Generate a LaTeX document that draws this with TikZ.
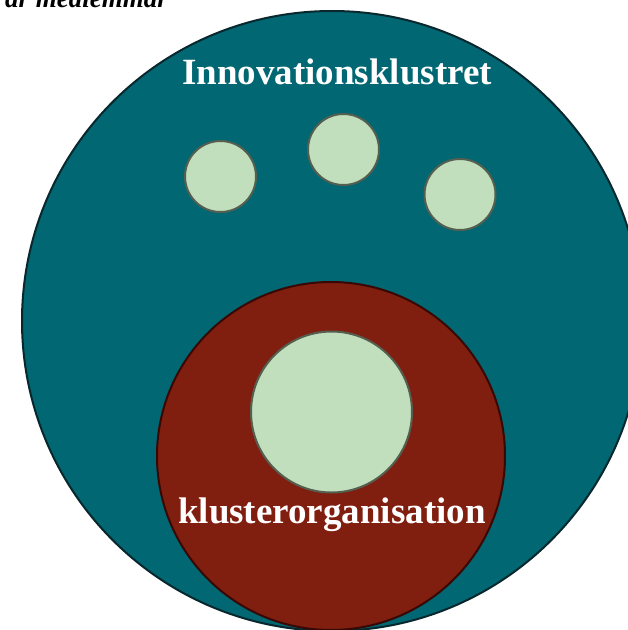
\documentclass[tikz,border=0pt]{standalone}
\usepackage{fontspec}
\setmainfont{Liberation Serif}
\definecolor{teal1}{RGB}{0,103,115}
\definecolor{tealedge}{RGB}{8,40,46}
\definecolor{red1}{RGB}{128,31,16}
\definecolor{rededge}{RGB}{55,8,4}
\definecolor{green1}{RGB}{193,223,188}
\definecolor{greenedge}{RGB}{85,95,80}
\tikzset{
  member/.style={circle, fill=green1, draw=greenedge, line width=2pt, inner sep=0pt},
  lbl/.style={text=white, font=\bfseries\fontsize{37}{40}\selectfont, inner sep=0pt, anchor=base}
}
\begin{document}
\begin{tikzpicture}[x=1pt,y=-1pt]
\useasboundingbox (0,0) rectangle (628,630);
\clip (0,0) rectangle (628,630);
\node[anchor=base west, inner sep=0pt, font=\bfseries\itshape\fontsize{27}{30}\selectfont] (top) at (5,7) {är medlemmar};
\node[circle, fill=teal1, draw=tealedge, line width=2pt, minimum size=620pt, inner sep=0pt] (big) at (332,321) {};
\node[lbl] (t1) at (337,84) {Innovationsklustret};
\node[member, minimum size=71pt] (m1) at (220.5,176.5) {};
\node[member, minimum size=71pt] (m2) at (343.5,149.5) {};
\node[member, minimum size=71pt] (m3) at (460,194.5) {};
\node[circle, fill=red1, draw=rededge, line width=2pt, minimum size=348pt, inner sep=0pt] (org) at (331,456) {};
\node[member, minimum size=161pt] (m4) at (331.5,412) {};
\node[lbl] (t2) at (332,523) {klusterorganisation};
\end{tikzpicture}
\end{document}
